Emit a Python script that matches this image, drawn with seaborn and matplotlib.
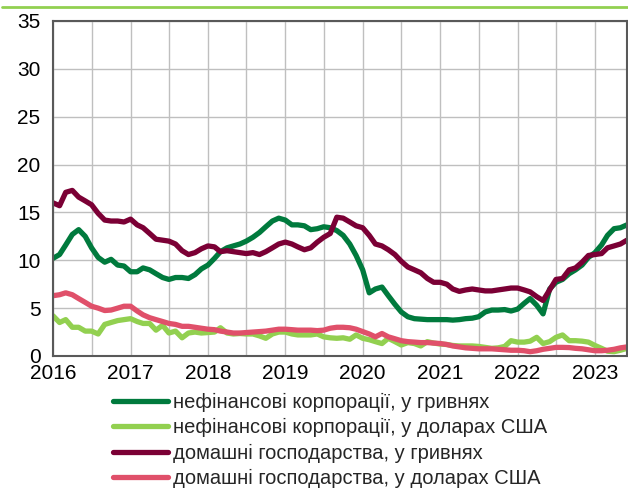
import seaborn as sns
import matplotlib.pyplot as plt
import matplotlib.dates as mdates
from matplotlib.lines import Line2D
import pandas as pd
import numpy as np

# --- data: monthly, Jan 2016 .. Jun 2023 ---
dates = pd.date_range("2016-01-01", periods=90, freq="MS")

nfc_uah = [10.2, 10.6, 11.6, 12.7, 13.2, 12.5, 11.3, 10.3, 9.8, 10.1, 9.5, 9.4,
           8.8, 8.8, 9.2, 9.0, 8.6, 8.2, 8.0, 8.2, 8.2, 8.1, 8.5, 9.1,
           9.5, 10.2, 10.9, 11.3, 11.5, 11.7, 12.0, 12.4, 12.9, 13.5, 14.1, 14.4,
           14.2, 13.7, 13.7, 13.6, 13.2, 13.3, 13.5, 13.4, 13.1, 12.6, 11.7, 10.5,
           9.0, 6.6, 7.0, 7.2, 6.3, 5.4, 4.6, 4.1, 3.9, 3.85, 3.8, 3.8,
           3.8, 3.8, 3.75, 3.8, 3.9, 3.95, 4.1, 4.6, 4.8, 4.8, 4.85, 4.7,
           4.9, 5.5, 6.0, 5.3, 4.4, 7.0, 7.7, 8.0, 8.6, 9.0, 9.5, 10.3,
           10.8, 11.6, 12.6, 13.3, 13.4, 13.7]

nfc_usd = [4.2, 3.5, 3.8, 3.0, 3.0, 2.6, 2.6, 2.3, 3.3, 3.5, 3.7, 3.8,
           3.9, 3.6, 3.4, 3.4, 2.7, 3.2, 2.4, 2.6, 1.9, 2.4, 2.5, 2.4,
           2.45, 2.5, 2.95, 2.4, 2.3, 2.35, 2.3, 2.3, 2.1, 1.85, 2.3, 2.5,
           2.5, 2.3, 2.2, 2.2, 2.2, 2.3, 2.0, 1.9, 1.85, 1.9, 1.75, 2.2,
           1.85, 1.7, 1.5, 1.3, 1.85, 1.5, 1.15, 1.4, 1.3, 1.05, 1.5, 1.35,
           1.25, 1.2, 1.1, 1.05, 1.05, 1.05, 1.0, 0.9, 0.8, 0.85, 1.0, 1.6,
           1.45, 1.45, 1.55, 1.95, 1.3, 1.5, 1.95, 2.2, 1.6, 1.6, 1.55, 1.45,
           1.1, 0.8, 0.5, 0.45, 0.6, 0.8]

hh_uah = [16.0, 15.7, 17.1, 17.3, 16.6, 16.2, 15.8, 14.9, 14.2, 14.1, 14.1, 14.0,
          14.3, 13.7, 13.4, 12.8, 12.2, 12.1, 12.0, 11.7, 11.0, 10.6, 10.8, 11.2,
          11.5, 11.4, 10.9, 11.0, 10.9, 10.8, 10.7, 10.8, 10.6, 10.9, 11.3, 11.7,
          11.9, 11.7, 11.4, 11.1, 11.3, 11.9, 12.4, 12.8, 14.5, 14.4, 14.0, 13.6,
          13.4, 12.6, 11.7, 11.5, 11.1, 10.6, 9.9, 9.3, 9.0, 8.7, 8.1, 7.7,
          7.7, 7.5, 7.0, 6.75, 6.9, 7.0, 6.9, 6.8, 6.8, 6.9, 7.0, 7.1,
          7.1, 6.9, 6.7, 6.2, 5.8, 6.9, 8.0, 8.1, 9.0, 9.2, 9.8, 10.5,
          10.6, 10.7, 11.3, 11.5, 11.7, 12.1]

hh_usd = [6.3, 6.4, 6.6, 6.4, 6.0, 5.6, 5.2, 5.0, 4.75, 4.8, 5.0, 5.2,
          5.2, 4.7, 4.3, 4.0, 3.8, 3.6, 3.4, 3.3, 3.1, 3.1, 3.0, 2.9,
          2.8, 2.75, 2.6, 2.5, 2.4, 2.4, 2.45, 2.5, 2.55, 2.6, 2.7, 2.8,
          2.8, 2.75, 2.7, 2.7, 2.7, 2.65, 2.7, 2.9, 3.0, 3.0, 2.95, 2.8,
          2.55, 2.3, 2.0, 2.35, 2.0, 1.8, 1.6, 1.5, 1.45, 1.4, 1.4, 1.35,
          1.3, 1.2, 1.05, 0.95, 0.85, 0.8, 0.75, 0.75, 0.75, 0.7, 0.65, 0.6,
          0.6, 0.55, 0.45, 0.55, 0.7, 0.8, 0.9, 0.9, 0.88, 0.8, 0.75, 0.65,
          0.55, 0.55, 0.6, 0.7, 0.85, 0.95]

labels = ["нефінансові корпорації, у гривнях",
          "нефінансові корпорації, у доларах США",
          "домашні господарства, у гривнях",
          "домашні господарства, у доларах США"]
colors = ["#007A3D", "#92D050", "#7B0035", "#E0506A"]

df = pd.DataFrame({"date": np.tile(dates, 4),
                   "value": nfc_uah + nfc_usd + hh_uah + hh_usd,
                   "series": np.repeat(labels, len(dates))})

# --- style ---
sns.set_style("white")
plt.rcParams["font.family"] = ["Liberation Sans", "DejaVu Sans"]

fig = plt.figure(figsize=(6.28, 4.88), dpi=100)
ax = fig.add_axes([0.0844, 0.2705, 0.914, 0.6865])

sns.lineplot(data=df, x="date", y="value", hue="series", hue_order=labels,
             palette=colors, linewidth=3.8, ax=ax, legend=False)

ax.set_xlim(dates[0], dates[-1])
ax.set_ylim(0, 35)
ax.set_yticks(range(0, 36, 5))
ax.xaxis.set_major_locator(mdates.YearLocator())
ax.xaxis.set_minor_locator(mdates.MonthLocator(bymonth=7))
ax.xaxis.set_major_formatter(mdates.DateFormatter("%Y"))
ax.set_xlabel("")
ax.set_ylabel("")

ax.grid(True, which="both", color="#BFBFBF", linewidth=1.0)
ax.set_axisbelow(True)
for s in ax.spines.values():
    s.set_color("#595959")
    s.set_linewidth(1.5)
ax.tick_params(axis="both", which="both", direction="in", length=4,
               color="#595959", labelsize=15, labelcolor="black")
ax.tick_params(axis="y", pad=9)
ax.tick_params(axis="x", pad=6)

# legend below the chart
handles = [Line2D([], [], color=c, linewidth=3.8) for c in colors]
fig.legend(handles, labels, loc="upper left", bbox_to_anchor=(0.18, 0.194),
           frameon=False, fontsize=14.5, handlelength=2.74, handletextpad=0.25,
           labelspacing=0.3, borderaxespad=0, borderpad=0)

# thin green rule at the top
fig.add_artist(Line2D([0.003, 1.0], [0.986, 0.986], color="#92D050",
                      linewidth=2, transform=fig.transFigure))

plt.savefig("out.png", dpi=100)
plt.close()
